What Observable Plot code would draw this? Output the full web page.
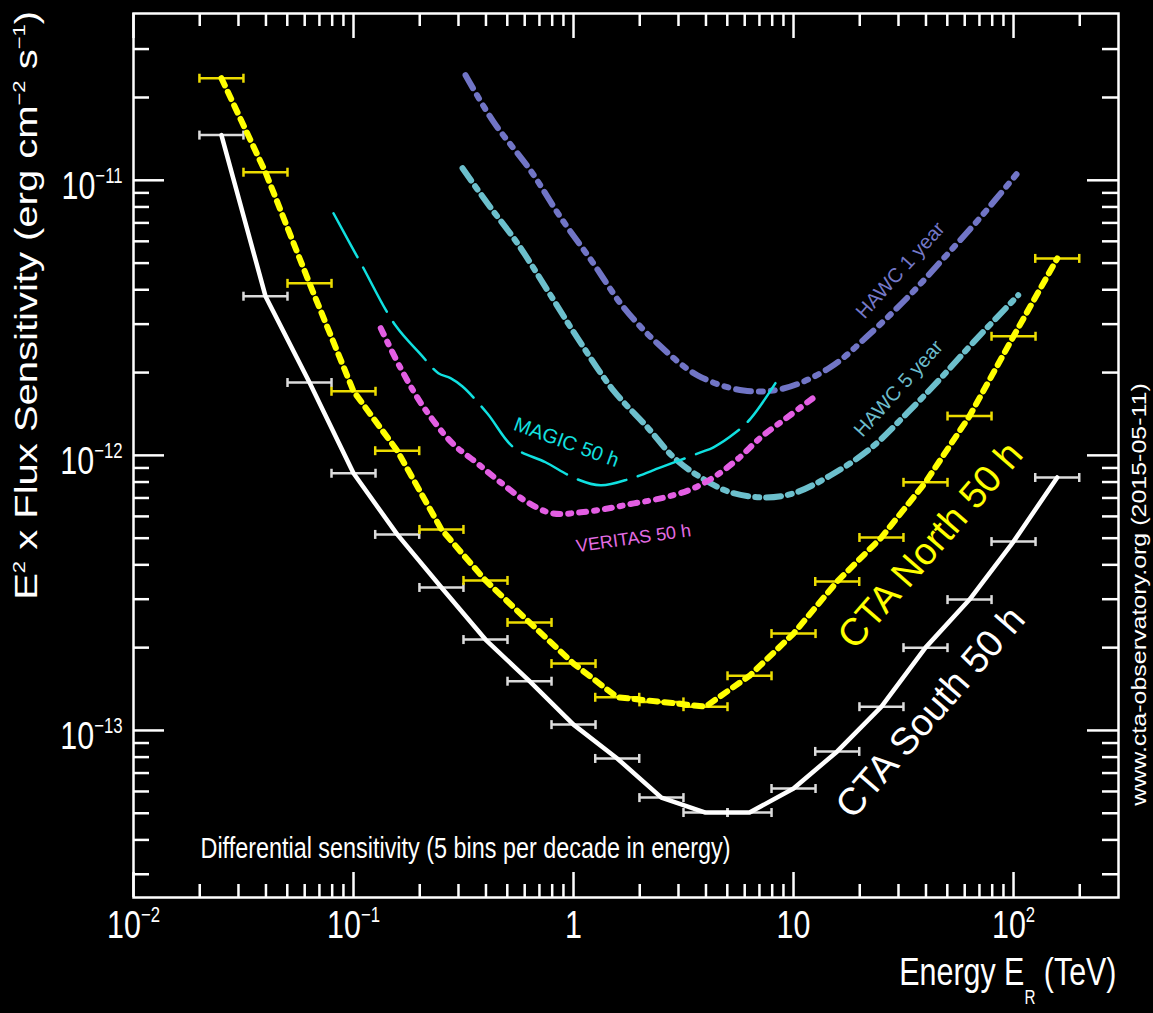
<!DOCTYPE html>
<html>
<head>
<meta charset="utf-8">
<script src="https://cdn.jsdelivr.net/npm/d3@7"></script>
<script src="https://cdn.jsdelivr.net/npm/@observablehq/plot@0.6"></script>
<style>
  html, body { margin: 0; padding: 0; background: #000; overflow: hidden; }
  #chart { width: 1153px; height: 1013px; }
</style>
</head>
<body>
<div id="chart"></div>
<script>
// ---------------- data ----------------
// CTA differential sensitivity: 5 bins per decade, bin centres in TeV
const energyBins = [0.0251, 0.0398, 0.0631, 0.1, 0.158, 0.251, 0.398, 0.631, 1.0, 1.58,
                    2.51, 3.98, 6.31, 10, 15.8, 25.1, 39.8, 63.1, 100, 158];
const binHalfDecade = 0.1; // each bin is 0.2 decade wide
const ctaSouth = [1.46e-11, 3.79e-12, 1.84e-12, 8.61e-13, 5.16e-13, 3.31e-13, 2.14e-13, 1.51e-13, 1.05e-13, 7.91e-14,
                  5.70e-14, 5.03e-14, 5.03e-14, 6.15e-14, 8.39e-14, 1.22e-13, 2.00e-13, 2.99e-13, 4.86e-13, 8.31e-13];
const ctaNorth = [2.35e-11, 1.07e-11, 4.22e-12, 1.71e-12, 1.04e-12, 5.38e-13, 3.51e-13, 2.47e-13, 1.75e-13, 1.32e-13,
                  1.27e-13, 1.22e-13, 1.58e-13, 2.25e-13, 3.48e-13, 5.03e-13, 7.98e-13, 1.39e-12, 2.71e-12, 5.20e-12];

const magicE = [0.0811, 0.108, 0.155, 0.202, 0.243, 0.276, 0.313, 0.406, 0.533, 0.746,
                1.02, 1.33, 1.82, 2.49, 3.78, 4.33, 5.45, 6.38, 8.28];
const magicS = [7.59e-12, 4.99e-12, 2.97e-12, 2.33e-12, 1.99e-12, 1.91e-12, 1.78e-12, 1.42e-12, 1.07e-12, 9.44e-13,
                8.24e-13, 7.78e-13, 8.24e-13, 9.04e-13, 1.025e-12, 1.07e-12, 1.21e-12, 1.36e-12, 1.83e-12];

const veritasE = [0.133, 0.164, 0.208, 0.282, 0.366, 0.466, 0.618, 0.803, 1.08, 1.43,
                  1.88, 2.49, 3.33, 4.33, 5.62, 7.08, 9.20, 12.2];
const veritasS = [2.90e-12, 2.07e-12, 1.50e-12, 1.105e-12, 9.35e-13, 7.98e-13, 6.75e-13, 6.15e-13, 6.21e-13, 6.41e-13,
                  6.69e-13, 6.98e-13, 7.46e-13, 8.32e-13, 9.75e-13, 1.16e-12, 1.36e-12, 1.61e-12];

const hawc1E = [0.323, 0.433, 0.637, 0.873, 1.22, 1.69, 2.41, 3.66, 5.93, 9.0, 14.7, 22.4, 33.0, 48.1, 70.8, 105];
const hawc1S = [2.41e-11, 1.63e-11, 1.087e-11, 7.34e-12, 5.04e-12, 3.45e-12, 2.55e-12, 1.955e-12, 1.72e-12, 1.75e-12,
                2.09e-12, 2.78e-12, 3.75e-12, 5.20e-12, 7.34e-12, 1.07e-11];

const hawc5E = [0.313, 0.406, 0.556, 0.762, 1.04, 1.52, 2.17, 2.85, 3.78, 5.17, 7.31, 10.0, 14.7, 22.4, 33.0, 46.6, 65.8, 105];
const hawc5S = [1.106e-11, 8.25e-12, 5.90e-12, 3.98e-12, 2.68e-12, 1.72e-12, 1.264e-12, 9.84e-13, 8.32e-13, 7.34e-13,
                7.03e-13, 7.28e-13, 8.45e-13, 1.06e-12, 1.43e-12, 1.905e-12, 2.58e-12, 3.82e-12];

// axes
const xDomain = [0.01, 300];
const yDomain = [2.47e-14, 4.04e-11];
const xTickValues = [0.01, 0.1, 1, 10, 100];
const xTickLabels = ["10^{−2}", "10^{−1}", "1", "10", "10^{2}"];
const yTickValues = [1e-11, 1e-12, 1e-13];
const yTickLabels = ["10^{−11}", "10^{−12}", "10^{−13}"];
const xTitle = "Energy E_{R} (TeV)";
const yTitle = "E^{2} x Flux Sensitivity (erg cm^{−2} s^{−1})";
const caption = "Differential sensitivity (5 bins per decade in energy)";
const credit = "www.cta-observatory.org (2015-05-11)";

// curve annotations (positions in data units)
const curveLabels = [
  {text: "MAGIC 50 h",     x: 0.929, y: 1.115e-12, color: "#14e0e0", angle: 20,  size: 20},
  {text: "VERITAS 50 h",   x: 1.874, y: 4.99e-13,  color: "#e36ce3", angle: -8,  size: 18},
  {text: "HAWC 1 year",    x: 30.6,  y: 4.71e-12,  color: "#7478c8", angle: -48, size: 20},
  {text: "HAWC 5 year",    x: 30.0,  y: 1.75e-12,  color: "#6cbccb", angle: -48, size: 20},
  {text: "CTA North 50 h", x: 41.95, y: 4.71e-13,  color: "#ffff00", angle: -49, size: 38},
  {text: "CTA South 50 h", x: 41.95, y: 1.163e-13, color: "#ffffff", angle: -49, size: 38}
];

// ---------------- layout ----------------
const W = 1153, H = 1013;
const mL = 133, mR = 35, mT = 13, mB = 116;
const plotW = W - mL - mR, plotH = H - mT - mB;
const SX = 0.78; // horizontal squeeze of the reference lettering

const toPts = (E, S) => E.map((e, i) => ({e, s: S[i]}));
const bins = energyBins.map((e, i) => ({
  e, south: ctaSouth[i], north: ctaNorth[i],
  lo: e / 10 ** binHalfDecade, hi: e * 10 ** binHalfDecade
}));
const capEnds = bins.flatMap(b => [
  {x: b.lo, south: b.south, north: b.north},
  {x: b.hi, south: b.south, north: b.north}
]);

const decades = [0.01, 0.1, 1, 10, 100];
const xMinor = decades.flatMap(d => d3.range(2, 10).map(k => k * d))
  .filter(v => v > xDomain[0] && v < xDomain[1] * 0.999);
const yDecades = [1e-14, 1e-13, 1e-12, 1e-11];
const yMinor = yDecades.flatMap(d => d3.range(2, 10).map(k => k * d))
  .filter(v => v > yDomain[0] && v < yDomain[1] * 0.98);

const vbar = { draw(ctx, size) { const r = Math.sqrt(size / Math.PI); ctx.moveTo(0, -r); ctx.lineTo(0, r); } };

const tickStyle = {stroke: "white", strokeWidth: 2.5};

const svg = Plot.plot({
  width: W, height: H,
  marginLeft: mL, marginRight: mR, marginTop: mT, marginBottom: mB,
  style: {background: "black", color: "white", fontFamily: "'Liberation Sans', Arial, Helvetica, sans-serif"},
  x: {type: "log", domain: xDomain, axis: null},
  y: {type: "log", domain: yDomain, axis: null},
  marks: [
    // HAWC curves
    Plot.line(toPts(hawc1E, hawc1S), {x: "e", y: "s", stroke: "#7175c6", strokeWidth: 6,
      strokeDasharray: "15,8,4,8,4,8", curve: "catmull-rom"}),
    Plot.line(toPts(hawc5E, hawc5S), {x: "e", y: "s", stroke: "#6cbfcc", strokeWidth: 6,
      strokeDasharray: "15,7,4,7", curve: "catmull-rom"}),
    // MAGIC
    Plot.line(toPts(magicE, magicS), {x: "e", y: "s", stroke: "#10e0e0", strokeWidth: 2.5,
      strokeDasharray: "50,12", curve: "catmull-rom"}),
    // VERITAS
    Plot.line(toPts(veritasE, veritasS), {x: "e", y: "s", stroke: "#e35ee3", strokeWidth: 6,
      strokeDasharray: "7,8,3,8", curve: "catmull-rom"}),

    // CTA South
    Plot.ruleY(bins, {y: "south", x1: "lo", x2: "hi", stroke: "#dcdcdc", strokeWidth: 2.5}),
    Plot.dot(capEnds, {x: "x", y: "south", symbol: vbar, r: 4.5, fill: "none", stroke: "#dcdcdc", strokeWidth: 2.5}),
    Plot.line(bins, {x: "e", y: "south", stroke: "white", strokeWidth: 4.5}),
    // CTA North
    Plot.ruleY(bins, {y: "north", x1: "lo", x2: "hi", stroke: "#ecdc00", strokeWidth: 2.5}),
    Plot.dot(capEnds, {x: "x", y: "north", symbol: vbar, r: 4.5, fill: "none", stroke: "#ecdc00", strokeWidth: 2.5}),
    Plot.line(bins, {x: "e", y: "north", stroke: "#ffff00", strokeWidth: 6, strokeDasharray: "8,7"}),

    // frame and ticks (all four sides, pointing inward)
    Plot.frame({stroke: "white", strokeWidth: 2.5}),
    Plot.tickX(xTickValues, {x: d => d, ...tickStyle, insetTop: plotH - 25}),
    Plot.tickX(xMinor, {x: d => d, ...tickStyle, insetTop: plotH - 13}),
    Plot.tickX(xTickValues, {x: d => d, ...tickStyle, insetBottom: plotH - 25}),
    Plot.tickX(xMinor, {x: d => d, ...tickStyle, insetBottom: plotH - 13}),
    Plot.tickY(yTickValues, {y: d => d, ...tickStyle, insetRight: plotW - 31}),
    Plot.tickY(yMinor, {y: d => d, ...tickStyle, insetRight: plotW - 16}),
    Plot.tickY(yTickValues, {y: d => d, ...tickStyle, insetLeft: plotW - 31}),
    Plot.tickY(yMinor, {y: d => d, ...tickStyle, insetLeft: plotW - 16}),

    // tick labels
    Plot.text(yTickValues, {y: d => d, text: (d, i) => yTickLabels[i], frameAnchor: "left",
      textAnchor: "end", dx: -11, dy: 6.5, fontSize: 39, fill: "white"}),
    Plot.text(xTickValues, {x: d => d, text: (d, i) => xTickLabels[i], frameAnchor: "bottom",
      textAnchor: "middle", dy: 40.5, fontSize: 39, fill: "white"}),

    // titles
    Plot.text([xTitle], {text: d => d, frameAnchor: "bottom-right", textAnchor: "end",
      dx: -2, dy: 87, fontSize: 39, fill: "white"}),
    Plot.text([{t: yTitle, y: 3.51e-12}], {y: "y", text: "t", frameAnchor: "left", textAnchor: "middle",
      dx: -106, rotate: -90, fontSize: 40, fill: "white"}),
    Plot.text([{t: credit, y: 3.12e-13}], {y: "y", text: "t", frameAnchor: "right", textAnchor: "middle",
      dx: 21, rotate: -90, fontSize: 25, fill: "white"}),
    Plot.text([{t: caption, x: 0.02016, y: 3.74e-14}], {x: "x", y: "y", text: "t",
      textAnchor: "start", fontSize: 30, fill: "white"}),

    // curve labels
    ...curveLabels.map(l => Plot.text([l], {x: "x", y: "y", text: "text", fill: l.color,
      rotate: l.angle, fontSize: l.size, textAnchor: "middle"}))
  ]
});

document.getElementById("chart").append(svg);

// horizontal squeeze of lettering (not the diagonal curve labels) + super/subscripts
const NS = "http://www.w3.org/2000/svg";
const noSqueeze = new Set(curveLabels.map(l => l.text));
function richify(t) {
  const s = t.textContent;
  if (!/[\^_]\{/.test(s)) return;
  const F = parseFloat(getComputedStyle(t).fontSize);
  const parts = s.split(/([\^_]\{[^}]*\})/).filter(Boolean);
  while (t.firstChild) t.removeChild(t.firstChild);
  let cur = 0;
  for (const p of parts) {
    const ts = document.createElementNS(NS, "tspan");
    let off = 0, txt = p;
    if (p[0] === "^" && p[1] === "{") { off = -0.41 * F; txt = p.slice(2, -1); ts.setAttribute("font-size", 0.55 * F); }
    else if (p[0] === "_" && p[1] === "{") { off = 0.5 * F; txt = p.slice(2, -1); ts.setAttribute("font-size", 0.5 * F); }
    ts.setAttribute("dy", off - cur);
    cur = off;
    ts.textContent = txt;
    t.appendChild(ts);
  }
}
svg.querySelectorAll("text").forEach(t => {
  if (!noSqueeze.has(t.textContent)) {
    const tr = t.getAttribute("transform");
    if (tr && /^\s*translate\(/.test(tr)) {
      t.setAttribute("transform", tr.replace(/^\s*(translate\([^)]*\))/, `$1 scale(${SX},1)`));
    } else if (!tr) {
      const x = t.getAttribute("x");
      if (x != null && !isNaN(+x)) {
        t.setAttribute("transform", `translate(${+x},0) scale(${SX},1)`);
        t.removeAttribute("x");
      } else {
        t.setAttribute("transform", `scale(${SX},1)`);
      }
    }
  }
  richify(t);
});
</script>
</body>
</html>
